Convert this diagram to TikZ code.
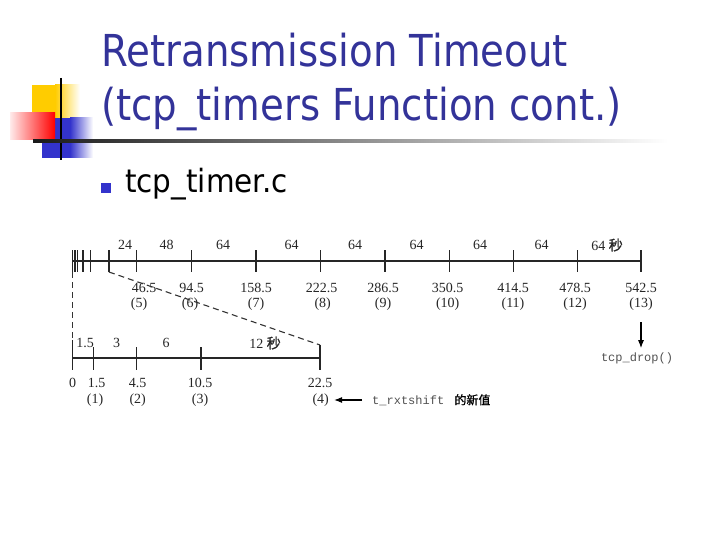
\documentclass[tikz,border=0pt]{standalone}
\usepackage{fontspec}
\setmainfont{Liberation Serif}
\setmonofont{Liberation Mono}
\newfontfamily\slidefont{DejaVu Sans}[FakeStretch=0.88]
\newfontfamily\bodyfont{DejaVu Sans}[FakeStretch=0.92]
\newfontfamily\cjk{Noto Sans CJK SC}[FakeBold=1.2]
\usetikzlibrary{arrows.meta, positioning, calc}
\definecolor{TitleBlue}{RGB}{51,51,153}
\definecolor{LogoYellow}{RGB}{255,204,0}
\definecolor{LogoRed}{RGB}{255,0,0}
\definecolor{LogoBlue}{RGB}{51,51,204}
\definecolor{CodeGray}{RGB}{80,80,80}

\begin{document}
\begin{tikzpicture}[x=1pt, y=-1pt,
    axis/.style={line width=1.3pt, black!85},
    tickmark/.style={line width=1.3pt, black!85},
    guide/.style={line width=1.1pt, black!80, dash pattern=on 6pt off 4pt},
    num/.style={font=\fontsize{14}{14}\selectfont, inner sep=0pt, text=black!85},
    code/.style={font=\ttfamily\fontsize{12}{12}\selectfont, text=CodeGray, inner sep=0pt},
    ptr/.style={-{Latex[length=8pt, width=6pt]}, line width=1.1pt, black},
]
\useasboundingbox (0,0) rectangle (720,540);

% ============ logo + title ============
\fill[LogoYellow] (31.7,85) rectangle (55,133);
\shade[left color=LogoYellow, right color=white] (55,85) rectangle (80,133);
\fill[LogoBlue] (41.7,118) rectangle (70,158);
\shade[left color=LogoBlue, right color=white] (70,118) rectangle (93,158);
\shade[left color=LogoRed!8, right color=LogoRed] (10,113) rectangle (55,140);
\draw[line width=2pt, black] (61,78) -- (61,160);
\shade[left color=black!90, middle color=black!65, right color=white] (33,140) rectangle (668,142.5);

\node[anchor=base west, inner sep=0pt, text=TitleBlue, font=\slidefont\fontsize{44}{44}\selectfont]
    (title1) at (101,67) {Retransmission Timeout};
\node[anchor=base west, inner sep=0pt, text=TitleBlue, font=\slidefont\fontsize{44}{44}\selectfont]
    (title2) at (101,121) {(tcp\_timers Function cont.)};

\fill[LogoBlue] (101,183) rectangle (111,193);
\node[anchor=base west, inner sep=0pt, font=\bodyfont\fontsize{32}{32}\selectfont]
    (file) at (125,193) {tcp\_timer.c};

% ============ upper time line ============
\draw[axis] (72.7,261) -- (641,261);
\foreach \x in {72.7,75,77.3,83,90.7,109,136.7,191.7,256,320.7,385,449.3,513.3,577.3,641}
    \draw[tickmark] (\x,250) -- (\x,272);
\foreach \x/\t in {125/24,166.7/48,223/64,291.7/64,355/64,416.7/64,480/64,541.7/64}
    \node[num] at (\x,245) {\t};
\node[num] (sec1) at (607,245) {64 {\cjk 秒}};
\foreach \x/\xx/\v/\i in {144/139/46.5/5, 191.7/190/94.5/6, 256/256/158.5/7, 321.7/322.7/222.5/8,
        383/383/286.5/9, 447.7/447.7/350.5/10, 513/513/414.5/11, 575/575/478.5/12, 641/641/542.5/13} {
    \node[num] (v\i) at (\x,288) {\v};
    \node[num] (n\i) at (\xx,304) {(\i)};
}

% tcp_drop
\coordinate (dropstart) at (641,322);
\node[code] (drop) at (637,358) {tcp\_drop()};
\draw[ptr, shorten >=4pt] (dropstart) -- (dropstart |- drop.north);

% ============ dashed guides ============
\draw[guide] (72.7,272) -- (72.7,340);
\draw[guide] (109,272) -- (320,345);

% ============ lower time line ============
\draw[axis] (72.7,358) -- (320,358);
\draw[tickmark] (72.7,340) -- (72.7,370);
\foreach \x in {93.3,136.7,201}
    \draw[tickmark] (\x,347) -- (\x,370);
\draw[tickmark] (320,345) -- (320,370);
\foreach \x/\t in {85/1.5,116.7/3,166/6}
    \node[num] at (\x,343) {\t};
\node[num] (sec2) at (265,343) {12 {\cjk 秒}};
\node[num] (v0) at (72.7,383) {0};
\foreach \x/\xx/\v/\i in {96.7/95/1.5/1, 137.7/137.7/4.5/2, 200/200/10.5/3, 320/320.7/22.5/4} {
    \node[num] (v\i) at (\x,383) {\v};
    \node[num] (n\i) at (\xx,400) {(\i)};
}

% new value of t_rxtshift
\node[code, anchor=west] (shift) at (372,400) {t\_rxtshift {\rmfamily\ }{\cjk\color{black}的新值}};
\draw[ptr, shorten <=10pt, shorten >=5pt] (shift.west) -- (shift.west -| n4.east);

\end{tikzpicture}
\end{document}
